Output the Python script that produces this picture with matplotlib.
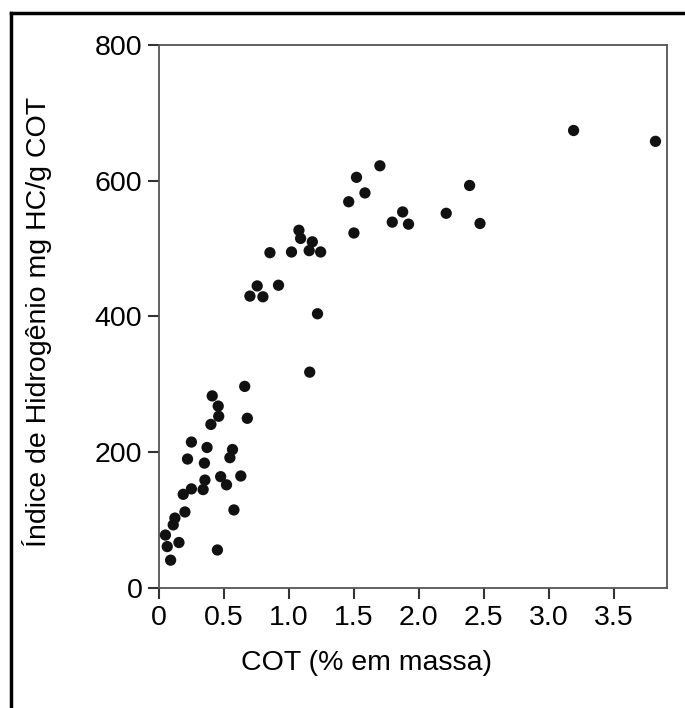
import matplotlib.pyplot as plt
from matplotlib.lines import Line2D

plt.rcParams['font.family'] = ['Liberation Sans', 'DejaVu Sans']

# COT (% em massa) and hydrogen index (mg HC/g COT)
cot = [0.05, 0.064, 0.09, 0.11, 0.123, 0.154, 0.187, 0.20, 0.25, 0.34,
       0.354, 0.45, 0.475, 0.52, 0.577, 0.63, 0.22, 0.35, 0.37, 0.25,
       0.546, 0.566, 0.40, 0.41, 0.456, 0.46, 0.66, 0.68, 1.16,
       0.70, 0.756, 0.80, 0.92, 0.854, 1.02, 1.077, 1.09, 1.18, 1.156,
       1.244, 1.22,
       1.46, 1.50, 1.52, 1.585, 1.70, 1.795, 1.875, 1.92, 2.21, 2.39,
       2.47, 3.19, 3.82]
ih = [78, 61, 41, 93, 103, 67, 138, 112, 146, 145,
      159, 56, 164, 152, 115, 165, 190, 184, 207, 215,
      192, 204, 241, 283, 268, 253, 297, 250, 318,
      430, 445, 429, 446, 494, 495, 527, 515, 510, 497,
      495, 404,
      569, 523, 605, 582, 622, 539, 554, 536, 552, 593,
      537, 674, 658]

x_ticks = [0, 0.5, 1.0, 1.5, 2.0, 2.5, 3.0, 3.5]
x_labels = ['0', '0.5', '1.0', '1.5', '2.0', '2.5', '3.0', '3.5']
y_ticks = [0, 200, 400, 600, 800]

fig = plt.figure(figsize=(6.85, 7.08), dpi=100)
ax = fig.add_axes([0.232, 0.1695, 0.742, 0.767])

ax.scatter(cot, ih, s=66, c='#111111', edgecolors='none', zorder=3)

ax.set_xlim(0, 3.91)
ax.set_ylim(0, 800)
ax.set_xticks(x_ticks)
ax.set_xticklabels(x_labels)
ax.set_yticks(y_ticks)

for sp in ax.spines.values():
    sp.set_color('#555555')
    sp.set_linewidth(1.3)
ax.tick_params(direction='out', length=8, width=1.5, color='#333333',
               labelsize=20.5, pad=4)

ax.set_xlabel('COT (% em massa)', fontsize=20.5)
ax.xaxis.set_label_coords(0.408, -0.115)
ax.set_ylabel('Índice de Hidrogênio mg HC/g COT', fontsize=20.5)
ax.yaxis.set_label_coords(-0.21, 0.49)

# partial frame around the picture (left and top edges)
fig.lines.append(Line2D([0.016, 0.016], [0.0, 0.981], transform=fig.transFigure,
                        color='black', linewidth=2.5))
fig.lines.append(Line2D([0.016, 1.0], [0.981, 0.981], transform=fig.transFigure,
                        color='black', linewidth=2.5))

fig.savefig('out.png', dpi=100)
